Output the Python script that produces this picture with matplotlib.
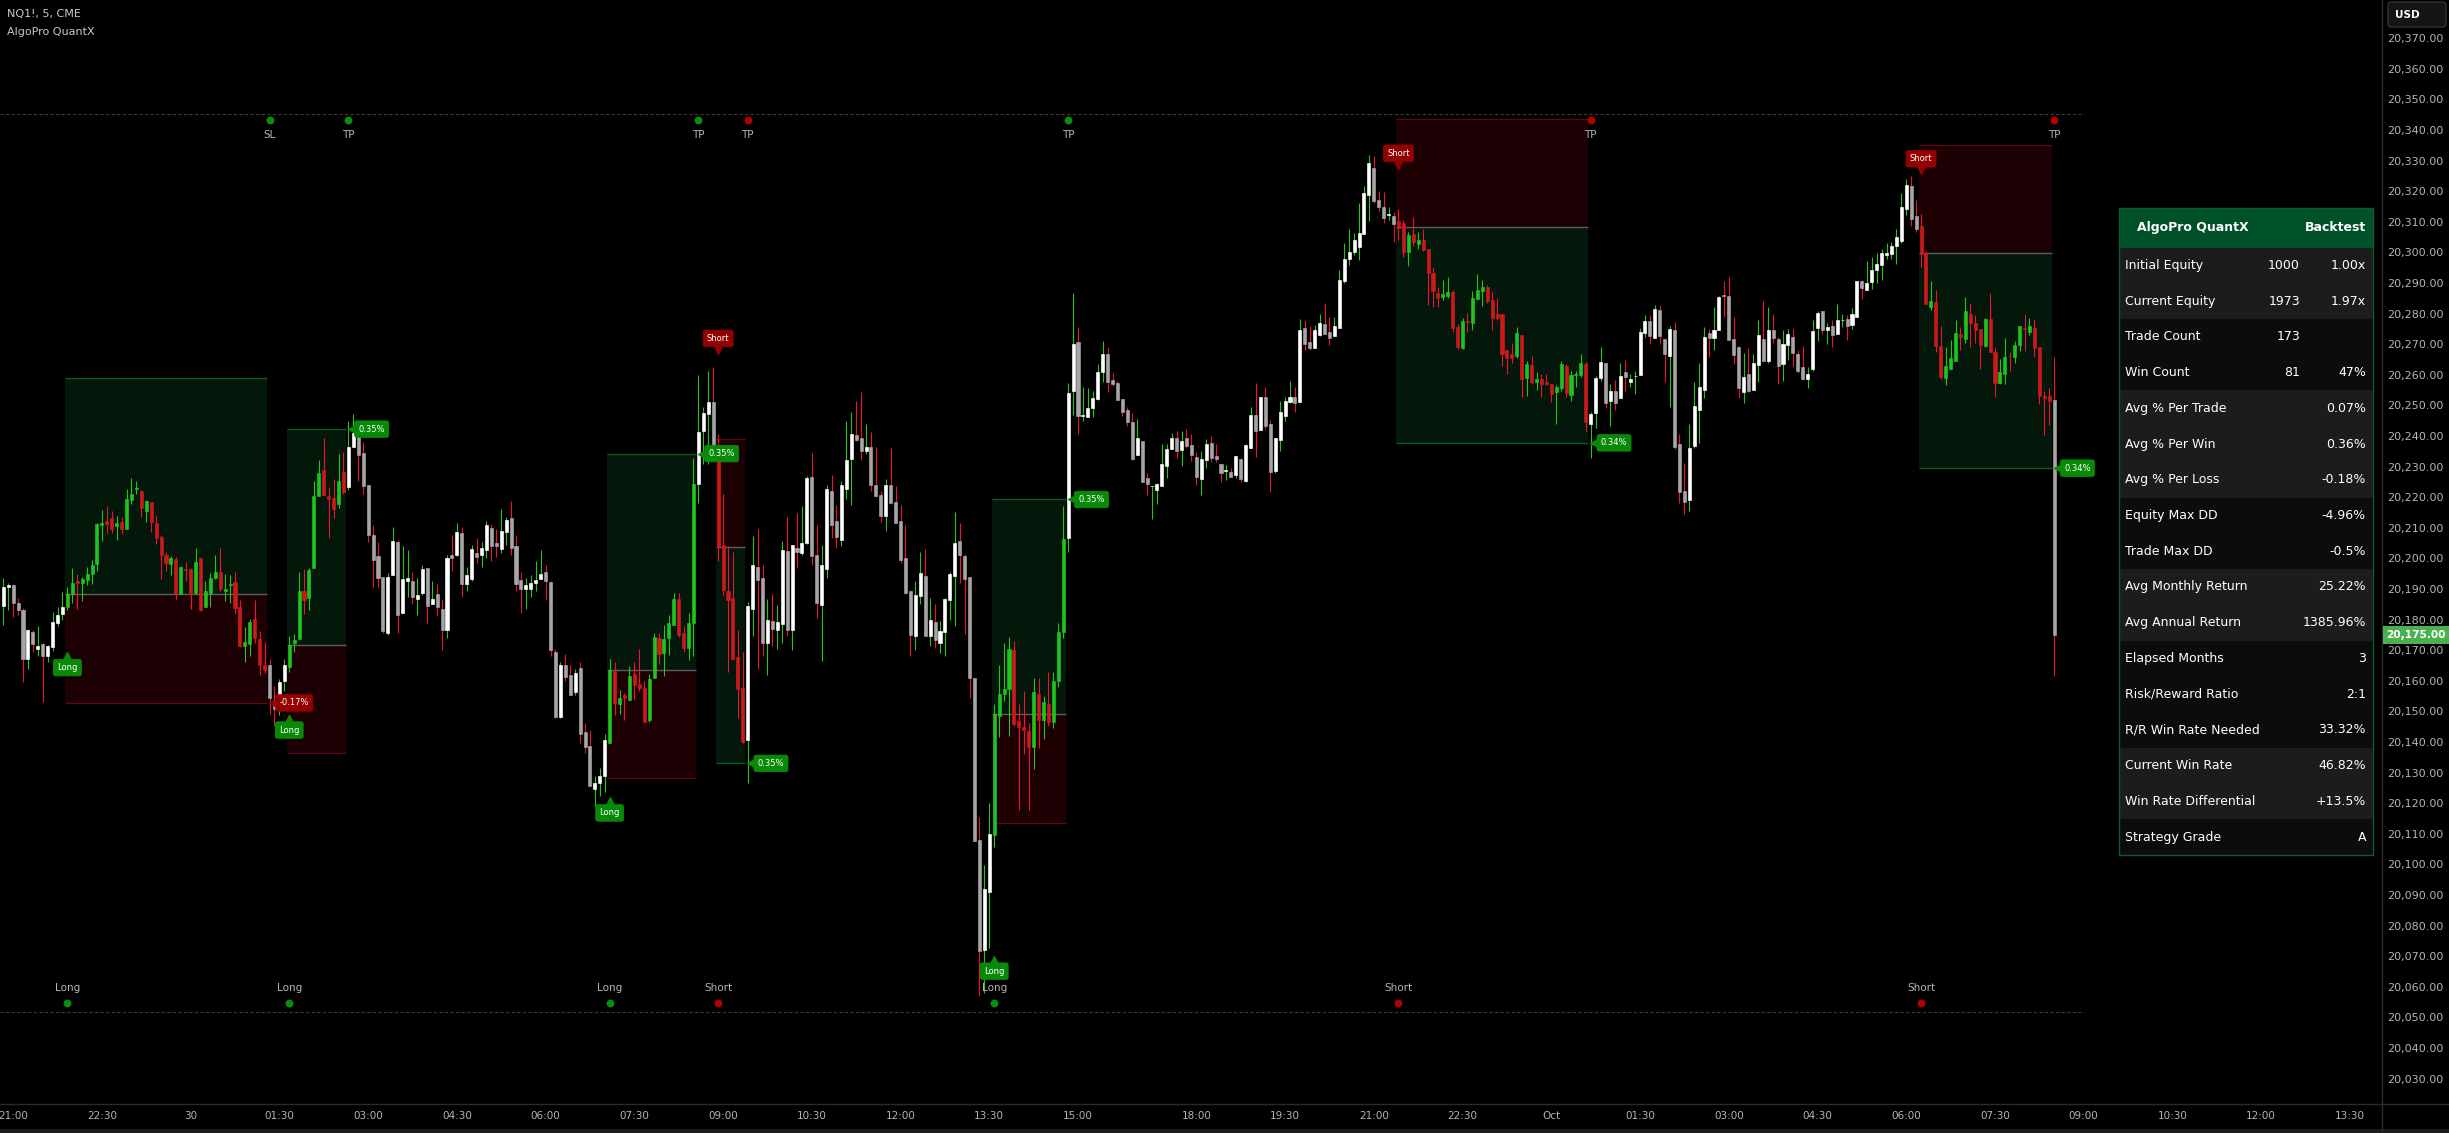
import numpy as np
import matplotlib
matplotlib.use("Agg")
import matplotlib.pyplot as plt
from matplotlib.patches import Rectangle, FancyBboxPatch
from matplotlib.transforms import offset_copy

# ---------------------------------------------------------------- data
# NQ1! 5-minute bars, 21:00 (29 Sep) through the 08:30 bar (1 Oct)
opens = np.array([
    20184.5, 20190.5, 20191.25, 20185.5, 20183, 20167.25, 20176, 20170.5, 20172, 20168,
    20171, 20179, 20181.75, 20184, 20188.5, 20192.5, 20192, 20193, 20195, 20198.25,
    20210.75, 20212.25, 20213.25, 20210.5, 20212, 20209.5, 20219, 20222.75, 20222, 20215.5,
    20218.5, 20211.5, 20207, 20201, 20198.25, 20199.75, 20188.5, 20196.5, 20196.5, 20188.75,
    20200, 20184, 20188.75, 20193.5, 20195.5, 20189.25, 20191.25, 20192.25, 20184, 20171.25,
    20172, 20180.25, 20173.75, 20165, 20165.25, 20153.75, 20151.5, 20160, 20164.5, 20172.25,
    20173.5, 20189.25, 20187, 20197, 20220.5, 20229, 20220.5, 20219.75, 20217.75, 20228.25,
    20223.25, 20236.25, 20241.75, 20234.5, 20224, 20207.5, 20200.75, 20194, 20175.5, 20194.5,
    20205.5, 20182, 20192.75, 20192.75, 20186.75, 20188.75, 20196.75, 20185.25, 20188.5, 20183.5,
    20176.5, 20201, 20201, 20208.25, 20191.75, 20193.25, 20201.75, 20201, 20202.75, 20210,
    20205, 20203, 20208.75, 20213.25, 20204, 20193, 20190, 20190, 20192, 20193.25,
    20195.5, 20192.25, 20169.5, 20148.25, 20165, 20162, 20156.25, 20164.25, 20143.25, 20138.75,
    20124.75, 20126.5, 20128.75, 20139.75, 20163.25, 20152.5, 20155.25, 20153.75, 20162.25, 20159,
    20157.75, 20147.25, 20161, 20174, 20169, 20174, 20178.25, 20186.75, 20175.75, 20170.75,
    20178.75, 20224.25, 20241.5, 20247.25, 20251.25, 20233.25, 20204.25, 20189.25, 20187, 20167.75,
    20157.5, 20140.75, 20183.5, 20197.25, 20193.75, 20172.5, 20179.5, 20176.5, 20178.5, 20202.5,
    20176.5, 20203.5, 20201.75, 20205, 20226.5, 20201, 20184.75, 20196.5, 20222, 20212.25,
    20206, 20222.75, 20232.5, 20240.25, 20239.5, 20235, 20236.25, 20224, 20220.75, 20214,
    20224, 20218.5, 20212.25, 20200, 20189.25, 20174.5, 20187.75, 20194.25, 20174.5, 20179.25,
    20172.5, 20176, 20186.5, 20194.25, 20205.75, 20200.75, 20194, 20161, 20108, 20072,
    20091, 20109.5, 20148.5, 20155.75, 20157.25, 20170, 20147, 20144.75, 20143.5, 20138.5,
    20155.75, 20147.25, 20152.5, 20146.5, 20160, 20176, 20206.75, 20254.75, 20270.75, 20246.5,
    20246.25, 20249.25, 20252.25, 20261, 20266.75, 20258.25, 20257.25, 20252, 20248.5, 20244.5,
    20233.75, 20238.25, 20226.25, 20223.5, 20222.5, 20223.5, 20230.25, 20235.75, 20239.5, 20235.5,
    20239.25, 20237, 20233, 20226, 20232, 20237.75, 20233.5, 20230.75, 20228.5, 20228.25,
    20227.25, 20232.5, 20225.25, 20236, 20246.75, 20242, 20252.75, 20244, 20228.5, 20238.75,
    20246.5, 20251, 20252.75, 20251, 20275.25, 20270.75, 20268.75, 20273, 20276.5, 20274,
    20272.75, 20275.25, 20290.5, 20297.75, 20300, 20301.75, 20306, 20318.75, 20327.5, 20317,
    20314.75, 20312.25, 20312, 20310.25, 20309.75, 20300, 20306, 20302.75, 20304, 20301.25,
    20293.25, 20286.75, 20285.5, 20285.75, 20287, 20275.75, 20268.75, 20277.5, 20277, 20284.75,
    20287.5, 20288.75, 20284.5, 20280, 20280, 20268, 20266.75, 20266.25, 20273, 20259,
    20263.25, 20257.75, 20258.75, 20257.5, 20257, 20254.5, 20255.75, 20263, 20253.5, 20260,
    20260, 20263.5, 20244, 20247.5, 20259, 20264, 20251.5, 20254.75, 20252.5, 20261,
    20257.75, 20259.5, 20260, 20273.75, 20277.5, 20272, 20281.25, 20271.75, 20266.25, 20274.75,
    20237.5, 20222, 20219, 20236.75, 20248.5, 20255, 20273.75, 20272, 20274.75, 20286,
    20285.75, 20271.75, 20269, 20254.5, 20260.25, 20255, 20263.25, 20271.75, 20264.5, 20274.5,
    20271.75, 20263.5, 20269.75, 20272.5, 20266.75, 20262.5, 20258.5, 20262, 20275.25, 20281,
    20274.75, 20276, 20273.5, 20277.75, 20278.25, 20276.25, 20278.75, 20290.75, 20287.75, 20290.25,
    20294.25, 20296, 20299, 20299.5, 20302, 20303.75, 20314.25, 20321.75, 20312, 20308.75,
    20299.75, 20282, 20283.75, 20269.5, 20259, 20262, 20264.5, 20273.5, 20271.75, 20280,
    20277, 20275, 20269.5, 20278.25, 20267.5, 20257.25, 20260.25, 20266.25, 20265.75, 20269.75,
    20275.25, 20274, 20275.25, 20269, 20253, 20253, 20251.75,
])

highs = np.array([
    20193.5, 20192, 20191.5, 20187, 20183.75, 20177, 20176.75, 20178, 20172.25, 20171.75,
    20182.5, 20184, 20189, 20190.5, 20197, 20195, 20194, 20197.25, 20199.5, 20211.5,
    20215.75, 20217.25, 20215.5, 20214, 20213.5, 20222.75, 20226.25, 20225.25, 20222.5, 20219,
    20218.5, 20214.25, 20207.5, 20202, 20200.75, 20200.5, 20197.5, 20198.75, 20196.75, 20203.5,
    20200.25, 20192.5, 20195.25, 20201, 20203.5, 20195, 20194.5, 20195.5, 20186.25, 20177.5,
    20180.25, 20186.5, 20176.25, 20172.75, 20167, 20158.25, 20160.5, 20167, 20174.75, 20175.25,
    20195.5, 20196.5, 20196.75, 20225.25, 20232.25, 20239.25, 20223.25, 20226, 20234.25, 20234.75,
    20245, 20247.25, 20242.25, 20238, 20224, 20211, 20205.5, 20194, 20195.25, 20210.25,
    20206, 20204, 20202.75, 20195.5, 20193.5, 20198, 20196.75, 20192.5, 20191.75, 20186.75,
    20201, 20207.75, 20211.5, 20210.25, 20197.25, 20204.5, 20206.75, 20205.5, 20212.25, 20211.25,
    20209.5, 20216.25, 20213.5, 20218.75, 20207.75, 20195.5, 20193.5, 20194.5, 20199, 20202.75,
    20198, 20192.75, 20170.5, 20166.25, 20168.75, 20165.25, 20164, 20166, 20146.25, 20144,
    20128.75, 20131.5, 20142.75, 20167.25, 20166.25, 20157, 20156, 20164.75, 20166, 20170.5,
    20160, 20162.25, 20175.5, 20175.75, 20178.25, 20181.5, 20188.75, 20188.75, 20178, 20182.25,
    20232.75, 20260, 20249.5, 20261.25, 20262.5, 20240.5, 20221, 20204, 20202, 20176.5,
    20169.5, 20185.75, 20207.25, 20209.5, 20198, 20186.75, 20188.5, 20184.75, 20205.75, 20213.5,
    20204.5, 20214.75, 20217.25, 20227, 20234.5, 20210.75, 20204.5, 20224, 20227.25, 20217.5,
    20225.25, 20245, 20248, 20251.5, 20254.25, 20244, 20241.25, 20236.5, 20222, 20226,
    20236, 20223.75, 20217.5, 20211, 20189.5, 20192.5, 20202, 20203, 20187, 20185,
    20179.5, 20187, 20195.5, 20215.25, 20211.5, 20201.5, 20194, 20161, 20115.5, 20099.75,
    20120, 20152.5, 20165, 20172.5, 20174.25, 20173, 20152.5, 20156.5, 20146.25, 20161,
    20160.75, 20155, 20163, 20163, 20179, 20217, 20257.25, 20286.75, 20275.5, 20256,
    20255.75, 20254.75, 20263.5, 20271, 20269, 20260.5, 20258, 20252, 20249.5, 20247.5,
    20245.5, 20238.25, 20228, 20223.75, 20224.5, 20237.5, 20237.5, 20241, 20241.5, 20241.5,
    20242.25, 20240.5, 20234.75, 20235, 20239, 20240, 20237.5, 20230.75, 20230.5, 20229.5,
    20233.5, 20232.75, 20237.5, 20249.5, 20257.25, 20252.75, 20256, 20245.25, 20239.25, 20251.5,
    20252.75, 20258, 20256, 20278.25, 20278, 20276, 20276.25, 20280, 20283.5, 20279,
    20279, 20294.25, 20303, 20307.5, 20306.25, 20316, 20321.75, 20332, 20331.5, 20320,
    20319.75, 20315, 20313.25, 20314.25, 20310.5, 20306.75, 20311.5, 20306.75, 20307.5, 20301.25,
    20295.25, 20288.75, 20291, 20292, 20287.75, 20276.5, 20278.5, 20280.25, 20287.5, 20293,
    20291, 20289.5, 20287.5, 20285, 20280, 20268, 20270.5, 20275.75, 20273, 20264.5,
    20266, 20261, 20260.25, 20260.25, 20257, 20256.75, 20264.5, 20263.5, 20261.25, 20261.25,
    20266.75, 20264.25, 20248, 20259.5, 20269, 20264, 20257, 20258.25, 20264, 20265,
    20260.25, 20261.25, 20275.25, 20279.5, 20279.5, 20282.75, 20282.75, 20271.75, 20276, 20277.25,
    20240.75, 20231.25, 20244, 20257.75, 20264, 20275.75, 20275, 20282, 20285.75, 20290.5,
    20292, 20279, 20269.5, 20267.25, 20268.75, 20266.75, 20278, 20284.25, 20282, 20280,
    20272.25, 20274.5, 20275, 20275, 20268, 20269.5, 20262.5, 20278, 20281, 20281,
    20277, 20278, 20283.25, 20280, 20279.5, 20281.75, 20290.5, 20291, 20297.25, 20298.5,
    20299.75, 20301.25, 20303, 20303.5, 20307.5, 20319.5, 20324, 20325, 20317, 20312.5,
    20300.5, 20290.75, 20287.75, 20276, 20269, 20271.25, 20278, 20275.5, 20285.5, 20283.5,
    20279.5, 20275, 20278.5, 20286.75, 20269, 20265.25, 20272, 20267.5, 20271, 20276,
    20280, 20278.5, 20278.25, 20269, 20254.75, 20255.75, 20265.75,
])

lows = np.array([
    20178.25, 20183, 20181, 20181.5, 20159.75, 20164, 20169.5, 20168.25, 20153, 20166.25,
    20169.75, 20177.75, 20180, 20183, 20185.5, 20183.5, 20186, 20191.25, 20191.5, 20196,
    20205.75, 20208.25, 20208.25, 20206, 20208, 20209.5, 20217.75, 20221, 20213.5, 20211.75,
    20208.5, 20204.75, 20193.25, 20195.75, 20194.5, 20186.75, 20188.5, 20192.5, 20183.5, 20188.5,
    20182.75, 20184, 20184, 20193.25, 20189.25, 20186, 20185.5, 20182, 20171, 20166.25,
    20168.25, 20172.25, 20161.75, 20162.5, 20149, 20145.25, 20148.75, 20156.75, 20163, 20169.25,
    20173.5, 20181.75, 20183, 20196.75, 20220.5, 20220.75, 20206.75, 20213.25, 20216.5, 20221,
    20222.5, 20236.25, 20225.25, 20221, 20205.5, 20190.75, 20190.75, 20175.5, 20175, 20194.5,
    20175.5, 20182, 20187.5, 20185, 20181.5, 20188, 20178.75, 20185.25, 20181.25, 20170,
    20174, 20196, 20200.75, 20187.5, 20189.25, 20192.5, 20198.5, 20197.25, 20200.25, 20199.25,
    20200.5, 20201.75, 20204.5, 20201, 20189.25, 20182.25, 20183.5, 20187.5, 20189.5, 20193.25,
    20186.5, 20168, 20147.75, 20147.75, 20160, 20155.5, 20155.5, 20139.75, 20136.5, 20125.5,
    20119, 20122.25, 20123.5, 20139.75, 20148.75, 20149, 20147.25, 20153.75, 20154, 20156.5,
    20146.5, 20146.5, 20161, 20165.5, 20161.5, 20168.5, 20178.25, 20174.25, 20169.5, 20166.75,
    20168, 20218.25, 20231, 20230.75, 20232, 20199, 20188, 20163, 20167, 20147.75,
    20139.5, 20126.5, 20174.5, 20164, 20168, 20162, 20171.25, 20170.5, 20172.5, 20174.5,
    20170, 20196.75, 20201, 20204.75, 20198, 20180.5, 20166.5, 20193.75, 20206.75, 20203.5,
    20204, 20219.5, 20217.5, 20238.5, 20232, 20234.25, 20222, 20220, 20212, 20209,
    20217.75, 20211.5, 20198.5, 20188.5, 20168, 20170, 20185, 20174.5, 20171.5, 20170.75,
    20169, 20168.25, 20180, 20178, 20192, 20175.25, 20154.5, 20107.75, 20057, 20058,
    20072.5, 20105.75, 20141.5, 20153.25, 20142, 20145.25, 20117.75, 20136, 20117.75, 20131,
    20138, 20141, 20145.25, 20144.5, 20158, 20174, 20202.25, 20247, 20240.75, 20244.75,
    20246.25, 20246.25, 20251.75, 20257.75, 20254.5, 20256.25, 20251.75, 20246.5, 20243.25, 20232,
    20233.75, 20225, 20220.75, 20213, 20217.75, 20223.5, 20226.25, 20235.75, 20232.75, 20230.25,
    20236, 20231.75, 20224, 20220.75, 20229.5, 20231.5, 20231.5, 20225, 20225.5, 20226.5,
    20226.25, 20225, 20225, 20236, 20233, 20242, 20242.25, 20221.75, 20228, 20235,
    20245, 20250.75, 20248, 20251, 20268, 20268, 20268.75, 20272.75, 20273.5, 20269.75,
    20272.75, 20275.25, 20290, 20296, 20299, 20297.5, 20306, 20310.25, 20316, 20313.5,
    20309.5, 20310.5, 20303.5, 20304, 20298.5, 20295.5, 20302, 20301.25, 20300.5, 20282.75,
    20282.25, 20282.25, 20284.5, 20285, 20274, 20268.5, 20268.5, 20274, 20274.75, 20284.75,
    20282.5, 20283.5, 20274.75, 20278, 20263, 20260.25, 20264, 20265.5, 20252.75, 20253,
    20257, 20255, 20252.75, 20256.75, 20251.25, 20244, 20254.75, 20252.75, 20251.5, 20256,
    20259.25, 20241.25, 20232.75, 20242.75, 20258, 20249, 20243.25, 20248.5, 20252.5, 20254.75,
    20256, 20253.75, 20260, 20272.5, 20270, 20272, 20270, 20257.5, 20249.5, 20235.75,
    20218, 20214.5, 20215.5, 20236, 20237.75, 20252.5, 20265.75, 20268, 20274.75, 20279,
    20271.5, 20263.5, 20252.5, 20250.75, 20254.5, 20255, 20257.5, 20264.25, 20264, 20270.25,
    20257, 20258, 20264.75, 20262.75, 20260.5, 20258.25, 20255.75, 20261.25, 20271, 20273.5,
    20270, 20269, 20273.5, 20275.5, 20271.5, 20275, 20278.75, 20284.75, 20287.75, 20288,
    20290, 20291, 20298, 20298, 20296.25, 20303, 20312.25, 20308.75, 20306.75, 20295.25,
    20283, 20281.25, 20267.5, 20258.75, 20256.75, 20262, 20264.5, 20268, 20270.5, 20269,
    20270.5, 20262, 20269, 20267.5, 20252.75, 20257, 20257, 20261.25, 20263.75, 20267.75,
    20267.75, 20273, 20265.75, 20250.5, 20240.25, 20243.5, 20161.5,
])

closes = np.array([
    20190.5, 20191.25, 20185.5, 20183, 20167.25, 20176.5, 20172, 20171.5, 20168, 20171.5,
    20179.25, 20181.5, 20184, 20188.5, 20192, 20192, 20193.25, 20195, 20197.75, 20211.25,
    20211.5, 20211.25, 20209.75, 20211.5, 20209.75, 20219.5, 20221, 20223, 20216.5, 20218.75,
    20211.75, 20206.5, 20201, 20198.5, 20200, 20188.75, 20197.25, 20196.25, 20188.25, 20198.75,
    20183, 20189.25, 20193.5, 20195.5, 20190, 20190, 20191.5, 20183.75, 20171.25, 20172.75,
    20179.25, 20174, 20165, 20163.5, 20154.5, 20150.75, 20159.5, 20165.25, 20171.75, 20173.25,
    20189.25, 20186.5, 20196.25, 20220.5, 20228, 20220.75, 20219.5, 20216.25, 20225.25, 20221.75,
    20236.25, 20241, 20233.75, 20223.75, 20207.5, 20199.5, 20193.75, 20176.25, 20194, 20205.75,
    20181.5, 20193.25, 20193.5, 20187.25, 20188, 20196.5, 20184.5, 20186.75, 20184, 20176.5,
    20200.25, 20200.25, 20208.75, 20191.75, 20194.5, 20203, 20200.5, 20203.5, 20211, 20204,
    20204, 20209, 20212.5, 20203.5, 20191.75, 20190, 20191.25, 20192, 20193, 20195,
    20192.75, 20170, 20148.25, 20165, 20161.25, 20155.5, 20162.5, 20142.5, 20138.5, 20125.5,
    20126.5, 20129, 20140.5, 20163.5, 20152.75, 20154.5, 20154.5, 20161.5, 20158.75, 20157.5,
    20146.5, 20160.5, 20174.25, 20168.75, 20173.75, 20179, 20186.75, 20175, 20170.75, 20179,
    20224.25, 20241.25, 20247.5, 20251, 20233.25, 20203.75, 20189.75, 20186.5, 20167.25, 20157.25,
    20140, 20184.5, 20198, 20193, 20172.5, 20180, 20177, 20179.25, 20202.75, 20176.5,
    20204.5, 20202.25, 20205, 20226.25, 20200.75, 20185.5, 20198, 20222.75, 20211, 20207,
    20224, 20232.25, 20240.75, 20238.75, 20235, 20236.5, 20224, 20220.5, 20214, 20224,
    20218, 20211.5, 20199.5, 20188.75, 20175, 20188, 20195.25, 20174.5, 20180, 20173.25,
    20176.25, 20186.75, 20194.75, 20205, 20201, 20193.25, 20161, 20107.75, 20071.75, 20092,
    20110, 20149, 20155.75, 20157.25, 20170.25, 20146, 20144.75, 20144, 20138.5, 20156.25,
    20147.25, 20153, 20146.5, 20160, 20176, 20206.25, 20254, 20270, 20246.5, 20246.75,
    20249, 20252.5, 20261, 20266.75, 20257.5, 20257, 20251.75, 20248, 20244.5, 20232.5,
    20239.5, 20225, 20224.25, 20223.75, 20224.25, 20230.75, 20235.75, 20239.25, 20235, 20238.25,
    20236.75, 20233.75, 20226.5, 20232.5, 20237.5, 20232.75, 20232.5, 20228, 20229, 20226.5,
    20233.5, 20226, 20237, 20246.75, 20241.5, 20252.75, 20243.25, 20228.25, 20239.25, 20247.75,
    20251.5, 20252.75, 20250.75, 20274.5, 20270, 20268.75, 20274.5, 20277, 20273.5, 20272,
    20276, 20291, 20297.75, 20300, 20304, 20306.25, 20319.5, 20329.25, 20316.75, 20314.75,
    20311.25, 20312.5, 20309.25, 20308, 20300, 20305.75, 20303.5, 20304, 20300.75, 20293.25,
    20287.5, 20285.25, 20286.5, 20287, 20275.25, 20269, 20277.5, 20277.25, 20285, 20287.75,
    20288.75, 20284.25, 20278.5, 20278.5, 20266.75, 20265.5, 20265.5, 20273.75, 20258.75, 20263.5,
    20257.5, 20258.75, 20257, 20257, 20253.75, 20256, 20263.5, 20254, 20260, 20260.25,
    20264, 20244.5, 20247.25, 20259, 20264.25, 20250.75, 20254.75, 20250.75, 20259.5, 20259.25,
    20258.75, 20259.75, 20274, 20277.5, 20272.75, 20281.5, 20272.75, 20266.75, 20275, 20236.5,
    20221.75, 20218.5, 20236, 20249.75, 20256, 20272.5, 20272, 20274.5, 20285.5, 20285.75,
    20271.5, 20266.5, 20255.75, 20259.25, 20254.75, 20263.75, 20273, 20264.5, 20274.5, 20272,
    20263, 20270, 20273.5, 20267.25, 20261.25, 20258.75, 20260.25, 20274.25, 20280.25, 20274.75,
    20275.5, 20273, 20278, 20278, 20276, 20280, 20290.5, 20288.5, 20290, 20294.25,
    20296.25, 20299.75, 20299.75, 20302, 20305, 20315, 20322, 20311, 20307.75, 20299.5,
    20283, 20284.25, 20269.5, 20259.25, 20263, 20265.5, 20273.75, 20272.5, 20281, 20277,
    20274.75, 20269.75, 20278.25, 20267.5, 20257.25, 20261, 20265.75, 20266, 20269.75, 20276,
    20275, 20276, 20268.75, 20253, 20252.5, 20251.5, 20175,
])

# Session time labels on the bar axis
time_tick_bars = [2, 20, 38, 56, 74, 92, 110, 128, 146, 164, 182, 200, 218, 242,
                  260, 278, 296, 314, 332, 350, 368, 386, 404, 422, 440, 458, 476]
time_tick_labels = ["21:00", "22:30", "30", "01:30", "03:00", "04:30", "06:00", "07:30",
                    "09:00", "10:30", "12:00", "13:30", "15:00", "18:00", "19:30", "21:00",
                    "22:30", "Oct", "01:30", "03:00", "04:30", "06:00", "07:30", "09:00",
                    "10:30", "12:00", "13:30"]

# Strategy trades
entry_bars = [13, 58, 123, 145, 201, 283, 389]
trade_sides = ["Long", "Long", "Long", "Short", "Long", "Short", "Short"]
entry_prices = [20188.25, 20171.75, 20163.5, 20203.75, 20149.0, 20308.25, 20299.75]
tp_prices = [20259.0, 20242.25, 20234.25, 20133.0, 20219.25, 20237.75, 20229.5]
sl_prices = [20152.75, 20136.5, 20128.25, 20239.0, 20113.5, 20343.5, 20335.0]
exit_bars = [54, 70, 141, 151, 216, 322, 416]
exit_kinds = ["SL", "TP", "TP", "TP", "TP", "TP", "TP"]
exit_results = ["-0.17%", "0.35%", "0.35%", "0.35%", "0.35%", "0.34%", "0.34%"]
entry_label_prices = [20169.2, 20148.8, 20121.7, 20267.0, 20070.0, 20327.5, 20325.7]

# Backtest summary table
table_title = ("AlgoPro QuantX", "Backtest")
table_labels = ["Initial Equity", "Current Equity", "Trade Count", "Win Count",
                "Avg % Per Trade", "Avg % Per Win", "Avg % Per Loss", "Equity Max DD",
                "Trade Max DD", "Avg Monthly Return", "Avg Annual Return", "Elapsed Months",
                "Risk/Reward Ratio", "R/R Win Rate Needed", "Current Win Rate",
                "Win Rate Differential", "Strategy Grade"]
table_col2 = ["1000", "1973", "173", "81", "", "", "", "", "", "", "", "", "", "", "", "", ""]
table_col3 = ["1.00x", "1.97x", "", "47%", "0.07%", "0.36%", "-0.18%", "-4.96%", "-0.5%",
              "25.22%", "1385.96%", "3", "2:1", "33.32%", "46.82%", "+13.5%", "A"]

# ---------------------------------------------------------------- style
BG = "#000000"
TXT = "#b4b4b4"
BODY_UP, BODY_DN = "#ffffff", "#a6a6a6"
TRADE_UP, TRADE_DN = "#1fc41f", "#cc1a1a"
WICK_UP, WICK_DN = "#28c41a", "#ee1238"
LBL_GREEN, LBL_RED = "#088a08", "#930000"
DOT_GREEN, DOT_RED = "#0b8f0b", "#b00000"

W, H = 2449, 1133
PX = 72.0 / 100.0  # points per pixel

fig = plt.figure(figsize=(W / 100, H / 100), dpi=100, facecolor=BG)
ax = fig.add_axes([0, 30 / H, 2381 / W, 1103 / H])
ax.set_facecolor(BG)
for s in ax.spines.values():
    s.set_visible(False)

n = len(opens)
bars = np.arange(n)
ax.set_xlim(-0.67, 482.3)
ax.set_ylim(20022.0, 20382.5)

# ---------------------------------------------------------------- trade zones
for e, x, side, ep, tp, sl in zip(entry_bars, exit_bars, trade_sides,
                                  entry_prices, tp_prices, sl_prices):
    x0, x1 = e - 0.5, x - 0.5
    ax.add_patch(Rectangle((x0, min(ep, tp)), x1 - x0, abs(tp - ep),
                           facecolor="#03170a", edgecolor="none", zorder=1))
    ax.add_patch(Rectangle((x0, min(ep, sl)), x1 - x0, abs(sl - ep),
                           facecolor="#1d0003", edgecolor="none", zorder=1))
    ax.plot([x0, x1], [tp, tp], color="#0d5a22", lw=1.0, zorder=2, solid_capstyle="butt")
    ax.plot([x0, x1], [ep, ep], color="#5e5e5e", lw=1.0, zorder=2, solid_capstyle="butt")
    ax.plot([x0, x1], [sl, sl], color="#560a14", lw=1.0, zorder=2, solid_capstyle="butt")

# ---------------------------------------------------------------- candles
in_trade = np.zeros(n, dtype=bool)
for e, x in zip(entry_bars, exit_bars):
    in_trade[e:x] = True
up = closes >= opens
body_colors = np.where(in_trade, np.where(up, TRADE_UP, TRADE_DN),
                       np.where(up, BODY_UP, BODY_DN))
wick_colors = np.where(up, WICK_UP, WICK_DN)

ax.vlines(bars, lows, highs, colors=wick_colors, linewidth=0.8, zorder=3)
ax.bar(bars, np.abs(closes - opens), bottom=np.minimum(opens, closes), width=0.62,
       color=body_colors, edgecolor=body_colors, linewidth=0.45, zorder=4)

# ---------------------------------------------------------------- axes
ax.yaxis.tick_right()
ax.set_yticks(np.arange(20030, 20371, 10))
ax.set_yticklabels([f"{v:,.2f}" for v in np.arange(20030, 20371, 10)])
ax.tick_params(axis="y", length=0, pad=6 * PX, labelsize=8, colors=TXT)
ax.set_xticks(time_tick_bars)
ax.set_xticklabels(time_tick_labels)
ax.tick_params(axis="x", length=0, pad=8 * PX, labelsize=7.5, colors=TXT)

# ---------------------------------------------------------------- marker rows
xt = ax.get_xaxis_transform()
ax.plot([-0.67, n + 5], [0.8966, 0.8966], transform=xt, color="#3a3a3a",
        lw=0.8, ls=(0, (3, 2)), zorder=2)
ax.plot([-0.67, n + 5], [0.0825, 0.0825], transform=xt, color="#3a3a3a",
        lw=0.8, ls=(0, (3, 2)), zorder=2)

for x, kind, side in zip(exit_bars, exit_kinds, trade_sides):
    col = DOT_GREEN if side == "Long" else DOT_RED
    ax.scatter([x], [0.8912], transform=xt, s=32, color=col, zorder=6, linewidths=0)
    ax.text(x, 0.8776, kind, transform=xt, ha="center", va="center",
            fontsize=7.5, color=TXT, zorder=6)
for e, side in zip(entry_bars, trade_sides):
    col = DOT_GREEN if side == "Long" else DOT_RED
    ax.scatter([e], [0.0907], transform=xt, s=32, color=col, zorder=6, linewidths=0)
    ax.text(e, 0.1043, side, transform=xt, ha="center", va="center",
            fontsize=7.5, color=TXT, zorder=6)


# ---------------------------------------------------------------- flag labels
def flag(x, y, text, color, pointing):
    box = dict(boxstyle="round,pad=0.45,rounding_size=0.25", fc=color, ec=color, lw=0.6)
    if pointing == "up":
        off, mk, mo = (0, -15 * PX), "^", (0, -3.5 * PX)
        ha, va = "center", "center"
    elif pointing == "down":
        off, mk, mo = (0, 15 * PX), "v", (0, 3.5 * PX)
        ha, va = "center", "center"
    else:
        off, mk, mo = (10 * PX, 0), "<", (3.5 * PX, 0)
        ha, va = "left", "center"
    ax.annotate(text, xy=(x, y), xytext=off, textcoords="offset points", ha=ha, va=va,
                fontsize=6, color="white", bbox=box, zorder=8, annotation_clip=False)
    tr = offset_copy(ax.transData, fig=fig, x=mo[0], y=mo[1], units="points")
    ax.plot([x], [y], marker=mk, ms=6, color=color, mec=color, transform=tr,
            zorder=8, clip_on=False)


for e, side, lp in zip(entry_bars, trade_sides, entry_label_prices):
    if side == "Long":
        flag(e, lp, "Long", LBL_GREEN, "up")
    else:
        flag(e, lp, "Short", LBL_RED, "down")

for x, kind, res, tp, sl in zip(exit_bars, exit_kinds, exit_results, tp_prices, sl_prices):
    if kind == "TP":
        flag(x, tp, res, LBL_GREEN, "left")
    else:
        flag(x, sl, res, LBL_RED, "left")

# ---------------------------------------------------------------- overlay (pixel space)
ov = fig.add_axes([0, 0, 1, 1])
ov.set_zorder(5)
ov.patch.set_alpha(0)
ov.set_xlim(0, W)
ov.set_ylim(H, 0)
ov.axis("off")

ov.plot([2381.5, 2381.5], [0, H], color="#2a2a2a", lw=1.0)
ov.plot([0, W], [1103.5, 1103.5], color="#2a2a2a", lw=1.0)
ov.add_patch(Rectangle((0, 1129), W, 4, facecolor="#1c1c1c", edgecolor="none"))

ov.text(7, 14, "NQ1!, 5, CME", fontsize=8, color="#c8c8c8", va="center", ha="left")
ov.text(7, 32, "AlgoPro QuantX", fontsize=8, color="#c8c8c8", va="center", ha="left")

ov.add_patch(FancyBboxPatch((2388, 2), 58, 25, boxstyle="round,pad=0,rounding_size=3",
                            facecolor="#141414", edgecolor="#3c3c3c", lw=0.8, zorder=6))
ov.text(2395, 15, "USD", fontsize=7.5, color="white", fontweight="bold",
        va="center", ha="left", zorder=7)

# last price badge on the price scale, placed at the last close
last_y = ov.transData.inverted().transform(ax.transData.transform((0, closes[-1])))[1]
ov.add_patch(Rectangle((2383, last_y - 9), W - 2383, 18, facecolor="#4caf50",
                       edgecolor="none", zorder=8))
ov.text(2416, last_y, f"{closes[-1]:,.2f}", fontsize=7.6, color="white",
        fontweight="bold", ha="center", va="center", zorder=9)

# summary table
t_left, t_right, t_top = 2119, 2373, 208
head_h, row_h = 39.5, 35.73
row_shade = [1, 1, 0, 0, 1, 1, 1, 0, 0, 1, 1, 0, 0, 0, 1, 1, 0]
ov.add_patch(Rectangle((t_left, t_top), t_right - t_left, head_h,
                       facecolor="#00502a", edgecolor="none", zorder=3))
ov.text(2193, t_top + head_h / 2, table_title[0], fontsize=9, color="white",
        fontweight="bold", ha="center", va="center", zorder=4)
ov.text(2366, t_top + head_h / 2, table_title[1], fontsize=9, color="white",
        fontweight="bold", ha="right", va="center", zorder=4)
for i, (lab, c2, c3) in enumerate(zip(table_labels, table_col2, table_col3)):
    y0 = t_top + head_h + i * row_h
    ov.add_patch(Rectangle((t_left, y0), t_right - t_left, row_h,
                           facecolor="#1c1c1c" if row_shade[i] else "#0c0c0c",
                           edgecolor="none", zorder=3))
    yc = y0 + row_h / 2
    ov.text(2125, yc, lab, fontsize=9, color="white", ha="left", va="center", zorder=4)
    if c2:
        ov.text(2300, yc, c2, fontsize=9, color="white", ha="right", va="center", zorder=4)
    if c3:
        ov.text(2366, yc, c3, fontsize=9, color="white", ha="right", va="center", zorder=4)
t_bottom = t_top + head_h + len(table_labels) * row_h
ov.add_patch(Rectangle((t_left, t_top), t_right - t_left, t_bottom - t_top,
                       facecolor="none", edgecolor="#0e5a28", lw=1.0, zorder=5))

fig.savefig("out.png", dpi=100, facecolor=BG)
